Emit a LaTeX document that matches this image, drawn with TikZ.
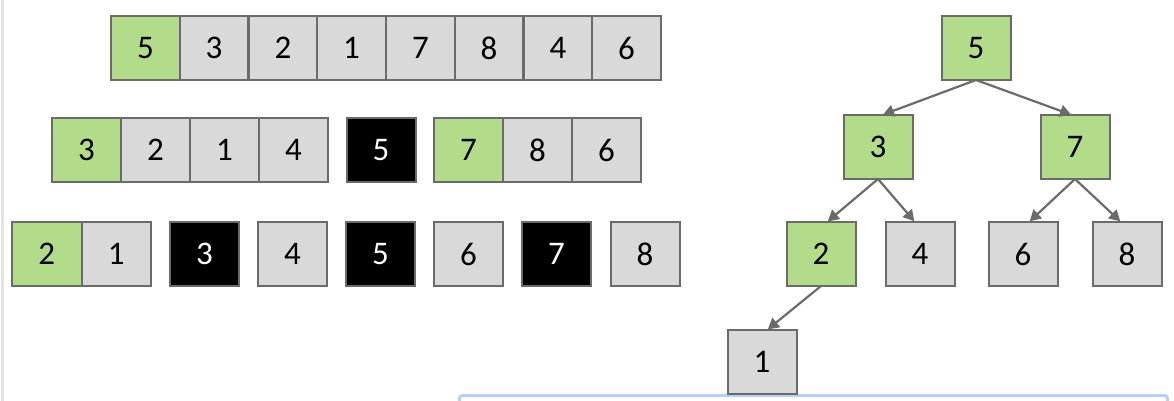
\documentclass[tikz,border=0pt]{standalone}
\usepackage{fontspec}
\setmainfont{Carlito}
\usetikzlibrary{arrows.meta}
\definecolor{cgreen}{HTML}{B2DC8A}
\definecolor{cgray}{HTML}{D9D9D9}
\definecolor{cedge}{HTML}{6B6B6B}
\definecolor{cblue}{HTML}{B8D0F8}
\definecolor{cside}{HTML}{E4E4E4}
\tikzset{
  cell/.style={draw=cedge, line width=2pt, fill=cgray, minimum width=69pt, minimum height=64pt, inner sep=0pt, outer sep=0pt, font=\fontsize{33}{36}\selectfont, text=black},
  gcell/.style={cell, fill=cgreen},
  bcell/.style={cell, fill=black, text=white},
  link/.style={draw=cedge, line width=2.2pt, -{Triangle[length=11pt,width=12pt]}, shorten >=1pt}
}
\begin{document}
\begin{tikzpicture}[x=1pt,y=-1pt]
\useasboundingbox (0,0) rectangle (1174,401);
% screenshot edges
\draw[cside, line width=2.5pt] (2.5,0) -- (2.5,401);
\draw[cblue, line width=3pt, rounded corners=3pt] (459.5,410) -- (459.5,395.5) -- (1167.5,395.5) -- (1167.5,410);
% row 1
\node[gcell, minimum width=68.75pt] (r1a) at (145.4,48) {5};
\node[cell, minimum width=68.75pt] (r1b) at (214.1,48) {3};
\node[cell, minimum width=68.75pt] (r1c) at (282.9,48) {2};
\node[cell, minimum width=68.75pt] (r1d) at (351.6,48) {1};
\node[cell, minimum width=68.75pt] (r1e) at (420.4,48) {7};
\node[cell, minimum width=68.75pt] (r1f) at (489.1,48) {8};
\node[cell, minimum width=68.75pt] (r1g) at (557.9,48) {4};
\node[cell, minimum width=68.75pt] (r1h) at (626.6,48) {6};
% row 2
\node[gcell] (r2a) at (86.5,150) {3};
\node[cell] (r2b) at (155.5,150) {2};
\node[cell] (r2c) at (224.5,150) {1};
\node[cell] (r2d) at (293.5,150) {4};
\node[bcell] (r2e) at (381,150) {5};
\node[gcell] (r2f) at (468.5,150) {7};
\node[cell] (r2g) at (537.5,150) {8};
\node[cell] (r2h) at (606.5,150) {6};
% row 3
\node[gcell, minimum width=69.5pt] (r3a) at (46.75,254) {2};
\node[cell, minimum width=69.5pt] (r3b) at (116.25,254) {1};
\node[bcell] (r3c) at (204.5,254) {3};
\node[cell] (r3d) at (292.5,254) {4};
\node[bcell] (r3e) at (380.5,254) {5};
\node[cell] (r3f) at (468.5,254) {6};
\node[bcell] (r3g) at (556.5,254) {7};
\node[cell] (r3h) at (645,254) {8};
% tree
\node[gcell] (t5) at (976,48) {5};
\node[gcell] (t3) at (878,147) {3};
\node[gcell] (t7) at (1075,147) {7};
\node[gcell] (t2) at (821,254) {2};
\node[cell] (t4) at (920,254) {4};
\node[cell] (t6) at (1023,254) {6};
\node[cell] (t8) at (1127,254) {8};
\node[cell] (t1) at (762,362) {1};
\draw[link] (t5.south) -- ([xshift=4pt]t3.north);
\draw[link] (t5.south) -- ([xshift=-3pt]t7.north);
\draw[link] (t3.south) -- ([xshift=6pt]t2.north);
\draw[link] (t3.south) -- ([xshift=-5pt]t4.north);
\draw[link] (t7.south) -- ([xshift=6pt]t6.north);
\draw[link] (t7.south) -- ([xshift=-6pt]t8.north);
\draw[link] (t2.south) -- ([xshift=5pt]t1.north);
\end{tikzpicture}
\end{document}
